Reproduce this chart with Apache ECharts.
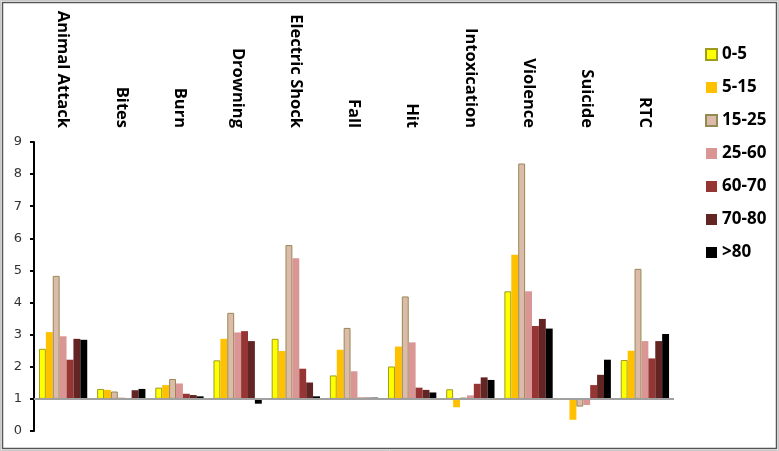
<!DOCTYPE html>
<html>
<head>
<meta charset="utf-8">
<script src="https://cdn.jsdelivr.net/npm/echarts@6/dist/echarts.min.js"></script>
<style>html,body{margin:0;padding:0;background:#fff;}#c{width:779px;height:451px;}</style>
</head>
<body>
<div id="c"></div>
<script>
const categories = ['Animal Attack','Bites','Burn','Drowning','Electric Shock','Fall','Hit','Intoxication','Violence','Suicide','RTC'];
const groups = ['0-5','5-15','15-25','25-60','60-70','70-80','>80'];
const v0_5   = [2.56, 1.31, 1.35, 2.20, 2.87, 1.73, 2.01, 1.30, 4.35, 1.00, 2.21];
const v5_15  = [3.08, 1.28, 1.43, 2.87, 2.49, 2.53, 2.63, 0.74, 5.49, 0.35, 2.50];
const v15_25 = [4.83, 1.23, 1.62, 3.68, 5.79, 3.21, 4.19, 1.04, 8.33, 0.76, 5.05];
const v25_60 = [2.95, 1.04, 1.48, 3.07, 5.38, 1.86, 2.76, 1.11, 4.35, 0.81, 2.80];
const v60_70 = [2.22, 1.00, 1.16, 3.11, 1.94, 1.04, 1.35, 1.47, 3.27, 1.43, 2.26];
const v70_80 = [2.87, 1.27, 1.12, 2.80, 1.51, 1.04, 1.28, 1.67, 3.49, 1.75, 2.80];
const v80    = [2.84, 1.31, 1.08, 0.85, 1.08, 1.04, 1.20, 1.59, 3.19, 2.22, 3.02];
const yTicks = [0,1,2,3,4,5,6,7,8,9];
const baseline = 1;

const values = [v0_5, v5_15, v15_25, v25_60, v60_70, v70_80, v80];
const colors = ['#FFFF00','#FFC000','#DDBBAA','#DA9694','#963634','#632523','#000000'];
const borders = ['#9C9C1E', null, '#948A54', null, null, null, null];

const series = [];
groups.forEach((g, i) => {
  const vals = values[i];
  series.push({
    name: '_base' + i, type: 'bar', stack: 's' + i, silent: true,
    itemStyle: { color: 'transparent' },
    data: vals.map(v => Math.min(v, baseline))
  });
  const s = {
    name: g, type: 'bar', stack: 's' + i,
    barGap: '0%', barCategoryGap: '17%',
    itemStyle: { color: colors[i], borderColor: borders[i] || colors[i], borderWidth: borders[i] ? 1 : 0 },
    data: vals.map(v => Math.abs(v - baseline))
  };
  if (i === 0) {
    s.markLine = {
      silent: true, symbol: 'none', label: { show: false },
      lineStyle: { color: '#A0A0A0', width: 2, type: 'solid' },
      data: [{ yAxis: baseline }]
    };
  }
  series.push(s);
});

const chart = echarts.init(document.getElementById('c'), null, { renderer: 'canvas' });
chart.setOption({
  animation: false,
  backgroundColor: '#fff',
  grid: { left: 34, right: 105, top: 142, bottom: 20, containLabel: false },
  legend: {
    data: groups, orient: 'vertical', left: 705, top: 44, icon: 'rect', padding: 0,
    itemWidth: 11, itemHeight: 11, itemGap: 12,
    textStyle: { fontFamily: 'Open Sans', fontWeight: 'bold', fontSize: 17, color: '#000', lineHeight: 21 }
  },
  xAxis: {
    type: 'category', data: categories, position: 'top',
    axisLine: { show: false }, axisTick: { show: false },
    axisLabel: { rotate: -90, margin: 14, interval: 0, fontFamily: 'Open Sans', fontWeight: 'bold', fontSize: 16.5, color: '#000' }
  },
  yAxis: {
    type: 'value', min: yTicks[0], max: yTicks[yTicks.length - 1], interval: 1,
    axisLine: { show: true, lineStyle: { color: '#000', width: 2 } },
    axisTick: { show: true, length: 4, lineStyle: { color: '#000', width: 2 } },
    splitLine: { show: false },
    axisLabel: { margin: 12, fontFamily: 'DejaVu Sans', fontSize: 13, color: '#333' }
  },
  graphic: [
    { type: 'rect', shape: { x: 0.5, y: 0.5, width: 778, height: 450 }, style: { fill: 'none', stroke: '#C8C8C8', lineWidth: 1 } },
    { type: 'rect', shape: { x: 2.5, y: 2.5, width: 774, height: 446 }, style: { fill: 'none', stroke: '#555', lineWidth: 1.5 } }
  ],
  series: series
});
</script>
</body>
</html>
